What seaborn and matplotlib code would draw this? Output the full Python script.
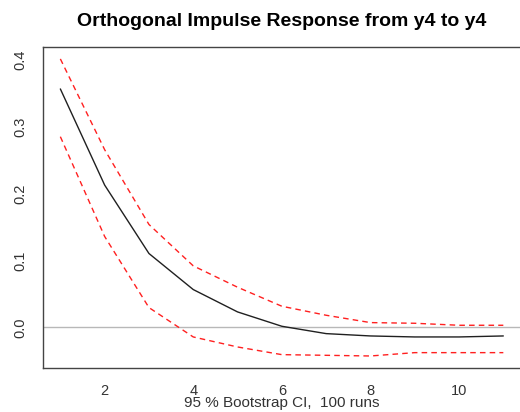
import matplotlib
matplotlib.use("Agg")
import matplotlib.pyplot as plt
import seaborn as sns
import pandas as pd

steps = [1, 2, 3, 4, 5, 6, 7, 8, 9, 10, 11]
irf = [0.357, 0.213, 0.1105, 0.0565, 0.023, 0.0015, -0.0095, -0.013, -0.0145, -0.0145, -0.013]
upper = [0.402, 0.266, 0.154, 0.092, 0.060, 0.0315, 0.018, 0.007, 0.006, 0.003, 0.003]
lower = [0.2855, 0.136, 0.0295, -0.0145, -0.0295, -0.041, -0.042, -0.043, -0.038, -0.038, -0.038]
xticks = [2, 4, 6, 8, 10]
yticks = [0.0, 0.1, 0.2, 0.3, 0.4]
ytick_labels = ["0.0", "0.1", "0.2", "0.3", "0.4"]
title = "Orthogonal Impulse Response from y4 to y4"
xlabel = "95 % Bootstrap CI,  100 runs"

sns.set_style("white")
plt.rcParams["font.family"] = ["Liberation Sans", "DejaVu Sans"]

df = pd.DataFrame({"step": steps, "irf": irf, "upper": upper, "lower": lower})

fig = plt.figure(figsize=(5.2, 4.12), dpi=100)
ax = fig.add_axes([0.082, 0.106, 0.920, 0.781])

ax.axhline(0, color="#b8b8b8", lw=1.0, zorder=1)
sns.lineplot(data=df, x="step", y="irf", ax=ax, color="#202020", lw=1.0, zorder=3)
sns.lineplot(data=df, x="step", y="upper", ax=ax, color="#ff2020", lw=1.0,
             linestyle=(0, (4, 3)), zorder=2)
sns.lineplot(data=df, x="step", y="lower", ax=ax, color="#ff2020", lw=1.0,
             linestyle=(0, (4, 3)), zorder=2)

ax.set_xlim(0.6, 11.4)
ax.set_ylim(-0.0615, 0.4205)
ax.set_xticks(xticks)
ax.set_xticklabels([str(t) for t in xticks])
ax.set_yticks(yticks)
ax.set_yticklabels(ytick_labels, rotation=90, va="center")

for s in ["left", "top", "bottom", "right"]:
    ax.spines[s].set_color("#444444")
    ax.spines[s].set_linewidth(1.0)

ax.tick_params(axis="both", direction="out", length=5, width=1.0, color="#444444",
               labelsize=10.5, labelcolor="#333333", pad=6)
ax.set_xlabel(xlabel, fontsize=11, color="#333333", labelpad=-1)
ax.set_ylabel("")
ax.set_title(title, fontsize=14, fontweight="bold", pad=15, color="black")

fig.savefig("out.png", dpi=100)
